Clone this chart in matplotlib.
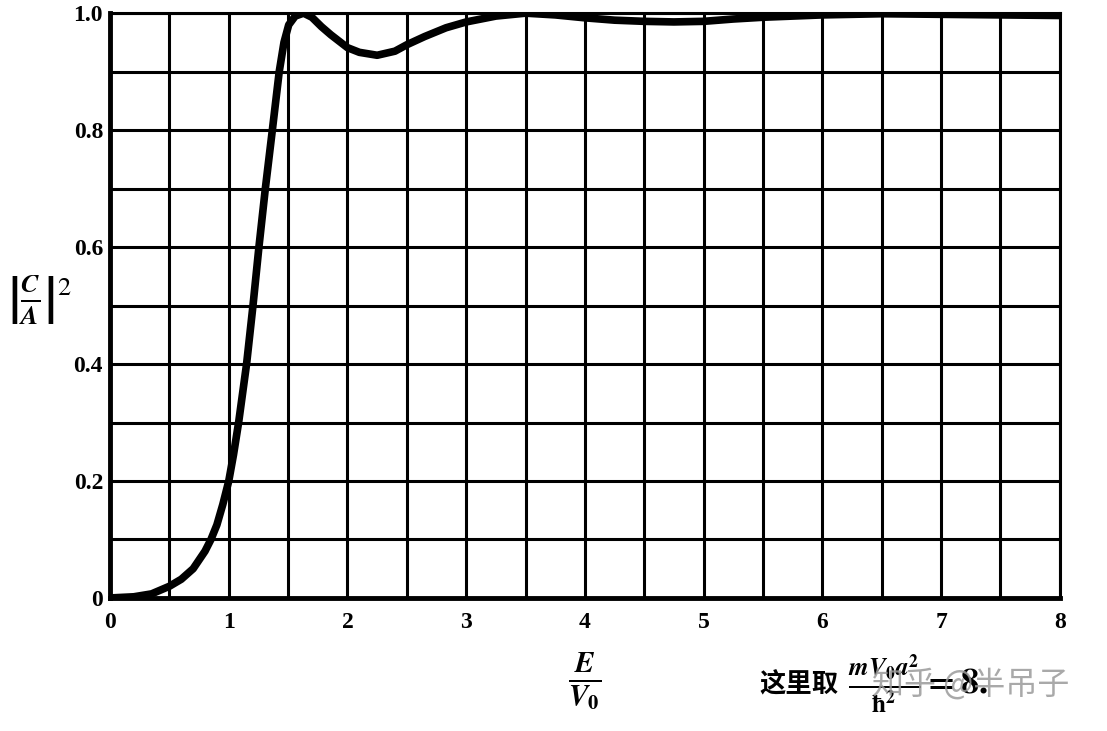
import numpy as np
import matplotlib.pyplot as plt
from matplotlib.ticker import MultipleLocator

# values
e_over_v0 = [0, 0.2, 0.35, 0.5, 0.6, 0.7, 0.8, 0.85, 0.9, 0.95, 1.0, 1.04, 1.083,
             1.15, 1.204, 1.254, 1.308, 1.367, 1.425, 1.465, 1.505, 1.56, 1.63, 1.7,
             1.78, 1.86, 2.0, 2.1, 2.25, 2.4, 2.5, 2.65, 2.83, 3.0, 3.25, 3.5, 3.75,
             4.0, 4.25, 4.5, 4.75, 5.0, 5.25, 5.5, 6.0, 6.5, 7.0, 7.5, 8.0]
trans = [0.0, 0.002, 0.007, 0.020, 0.032, 0.050, 0.080, 0.100, 0.125, 0.160, 0.200,
         0.245, 0.300, 0.400, 0.500, 0.600, 0.700, 0.800, 0.900, 0.950, 0.980, 0.995,
         1.000, 0.993, 0.977, 0.963, 0.941, 0.933, 0.928, 0.935, 0.946, 0.960, 0.975,
         0.985, 0.995, 1.000, 0.997, 0.992, 0.988, 0.986, 0.985, 0.986, 0.990, 0.993,
         0.997, 0.999, 0.998, 0.997, 0.996]

xticks = [0, 1, 2, 3, 4, 5, 6, 7, 8]
yticks = [0, 0.2, 0.4, 0.6, 0.8, 1.0]
ytick_labels = ['0', '0.2', '0.4', '0.6', '0.8', '1.0']

plt.rcParams['mathtext.fontset'] = 'stix'

fig = plt.figure(figsize=(11.07, 7.31), dpi=100)
ax = fig.add_axes([0.0994, 0.182, 0.858, 0.800])

ax.plot(e_over_v0, trans, color='black', lw=5.5, solid_capstyle='round',
        solid_joinstyle='round', zorder=3)

ax.set_xlim(0, 8)
ax.set_ylim(0, 1.0)
ax.set_xticks(xticks)
ax.set_yticks(yticks)
ax.set_yticklabels(ytick_labels)
ax.xaxis.set_minor_locator(MultipleLocator(0.5))
ax.yaxis.set_minor_locator(MultipleLocator(0.1))
ax.grid(True, which='both', color='black', lw=2.2)
ax.tick_params(which='both', length=0)
ax.tick_params(axis='x', pad=10)
ax.tick_params(axis='y', pad=5)
for lab in ax.get_xticklabels() + ax.get_yticklabels():
    lab.set_fontfamily('Liberation Serif')
    lab.set_fontweight('bold')
    lab.set_fontsize(17)
for side in ['top', 'right']:
    ax.spines[side].set_linewidth(2.2)
for side in ['left', 'bottom']:
    ax.spines[side].set_linewidth(3.5)

# axis labels
fig.text(0.036, 0.59, r'$\left|\frac{\boldsymbol{C}}{\boldsymbol{A}}\right|^2$',
         fontsize=27, ha='center', va='center')
fig.text(0.528, 0.068, r'$\frac{\boldsymbol{E}}{\boldsymbol{V}_\mathbf{0}}$',
         fontsize=30, ha='center', va='center')

# note on the right
fig.text(0.686, 0.063, '这里取', family=['Noto Sans CJK SC', 'DejaVu Sans'],
         fontweight='bold', fontsize=19, ha='left', va='center')
fig.text(0.766, 0.063, r'$\frac{\boldsymbol{mV}_\mathbf{0}\boldsymbol{a}^\mathbf{2}}{\boldsymbol{\hbar}^\mathbf{2}}\mathbf{=8.}$',
         fontsize=26, ha='left', va='center')

# watermark
fig.text(0.788, 0.063, '知乎 @半吊子', family=['Noto Sans CJK SC', 'DejaVu Sans'],
         fontsize=23, color='#9a9a9a', alpha=0.85, ha='left', va='center')

fig.savefig('out.png', dpi=100)
